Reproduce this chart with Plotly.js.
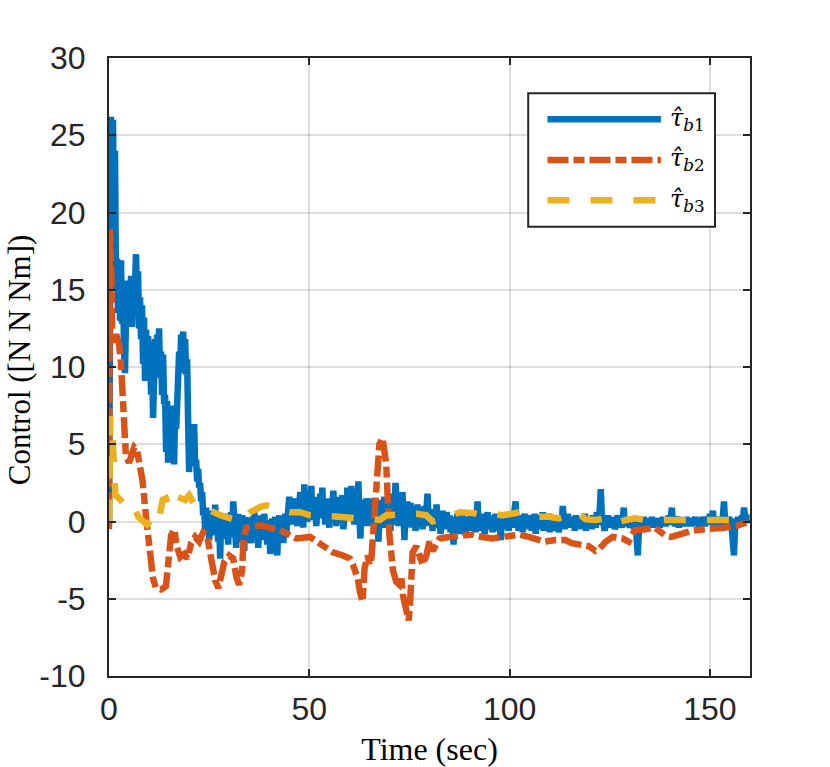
<!DOCTYPE html>
<html>
<head>
<meta charset="utf-8">
<script src="https://cdn.plot.ly/plotly-3.0.1.min.js"></script>
<style>html,body{margin:0;padding:0;background:#fff;}#chart{width:830px;height:767px;}</style>
</head>
<body>
<div id="chart"></div>
<script>
// ---------- DATA ----------
// tau_b1 sampled every 0.25 s from t = 0 to 160
const tb1Step = 0.25;
const tb1 = [
  // 0 - 24 s
  0, 14, 26.2, 22, 26, 18, 24, 15,
  17, 13.5, 16.2, 13, 16.9, 12.8, 15.5, 11,
  9.6, 13.5, 15.6, 12.8, 15.2, 13.1, 15.9, 12.6,
  15, 13.4, 16.5, 17.3, 14, 16.2, 12.5, 14.5,
  11.8, 14, 10.2, 13.2, 9.1, 12.4, 10, 12,
  9.6, 11.7, 8.2, 11, 6.7, 9.5, 11.8, 9.4,
  12.1, 10.2, 12.5, 9.3, 11, 8.2, 10.8, 7.6,
  8.2, 4.5, 7.8, 3.8, 7.3, 5.5, 7.5, 6.1,
  7.4, 3.7, 7.2, 6, 7.5, 8.8, 11, 9.6,
  12.1, 10.2, 12.3, 9.8, 11.8, 9.5, 10.5, 6.5,
  3.2, 5.8, 4.2, 5.5, 4.8, 6.3, 3.6, 4,
  2.6, 3.4, 2.2, 2.5, 1.3, 1.9, 0.4, 0.8,
  -0.5,
  // 24.25 - 25 s
  0.9, -0.8, 0.4, -1.2,
  // 25.25 - 160 s, 20 samples per 5 s
  -0.2, 0.7, -0.9, 0.3, -0.5, 1.1, -0.7, 0.2, -1.3, -0.1, -2.4, 0.4, -0.6, -1.1, 0.3, -0.8, 0.5, -0.3, -1.5, 0.2,
  -0.6, 0.6, -1.0, 1.3, -0.4, 0.1, -1.7, -0.2, 0.5, -0.9, 0.2, -1.3, 0.4, -0.5, -1.9, 0.3, -0.7, 0.1, -1.1, 0.2,
  -0.5, -1.4, 0.3, -0.8, 0.6, -0.3, -1.0, 0.2, -1.7, -0.4, 0.4, -0.9, -0.1, -1.2, 0.5, -0.6, -0.2, -1.5, 0.1, -0.7,
  -2.1, -0.3, 0.2, -1.0, -0.4, 0.3, -1.3, -2.2, -0.2, 0.4, -0.9, -0.5, 0.1, -1.4, -0.3, 0.5, -0.8, 0.2, -0.4, 1.6,
  0.3, 1.2, -0.2, 0.9, 1.5, 0.1, 0.7, -0.3, 1.3, 0.4, 1.9, 0.2, 1.0, -0.4, 2.4, 0.6, 1.4, 0.0, 0.8, 1.7,
  0.5, 2.3, 0.1, 1.2, 0.6, 1.6, -0.3, 0.9, 1.3, 0.2, 1.8, 0.5, 2.2, 0.3, 1.1, -0.2, 0.8, 1.5, 0.4, -0.4,
  1.2, 0.3, 0.9, 2.0, 0.4, 1.3, -0.3, 0.8, 1.6, 0.1, 1.1, 0.5, 1.7, -0.5, 0.7, 1.2, 0.2, 2.2, 0.6, 1.0,
  0.3, 2.3, 0.7, 1.3, -0.2, 0.9, 1.6, 0.4, 2.6, 0.2, -1.1, 0.8, 1.4, 0.3, 0.9, -0.3, 1.5, 0.6, 1.1, 0.2,
  1.5, -0.3, 0.8, 0.3, 1.2, -0.5, 0.6, 0.1, -1.3, 0.9, 1.4, -0.2, 0.7, 0.3, 1.6, -0.4, 0.5, 1.0, 0.2, 0.8,
  -0.6, 1.2, 0.4, 1.8, -0.2, 2.5, 0.6, 1.0, -0.3, 0.8, 1.4, 0.2, 1.9, 0.5, -1.2, 0.9, 0.3, 1.3, -0.1, 0.6,
  1.2, -0.4, 0.7, 0.2, 1.0, -0.6, 0.5, 1.1, -0.2, 0.6, 0.1, 0.9, -0.5, 0.4, 1.0, -0.3, 0.7, 1.8, 0.2, 0.5,
  -0.2, 0.8, -0.6, 0.3, 0.6, -0.4, 1.1, 0.2, -0.3, 0.5, -0.8, 0.3, 0.7, -0.2, 0.4, -0.5, 0.6, 0.1, -0.3, 0.4,
  -0.7, 0.2, -0.4, -1.5, 0.3, -0.6, 0.1, 0.5, -0.3, -0.8, 0.4, -0.2, 0.6, -0.5, 0.1, -0.9, 0.3, -0.4, 0.2, -0.1,
  0.4, -0.6, 0.2, -0.3, 0.5, -0.7, 0.3, 1.3, -0.2, 0.4, -0.6, 0.1, -0.4, 0.5, -0.8, 0.2, -0.2, 0.6, -0.5, 0.1,
  -0.3, 0.4, -0.7, 0.2, -0.1, 0.5, -0.6, 0.1, -0.4, 0.3, -1.2, -0.2, 0.4, -0.5, 0.2, -0.3, 0.6, -0.1, -0.6, 0.3,
  -0.2, 0.5, -0.4, 0.3, 0.7, 1.3, -0.3, 0.2, -0.6, 0.4, -0.1, 0.3, -0.7, 0.1, 0.5, -0.4, 0.2, -0.2, 0.4, -0.5,
  0.1, -0.6, 0.3, -0.2, 0.5, -0.8, 0.2, -0.3, 0.4, -0.5, 0.1, -0.2, 0.6, -0.6, 0.2, -0.4, 0.3, -0.1, 0.5, -0.7,
  0.2, -0.3, 0.4, -0.6, 0.1, 0.3, -0.4, 0.2, -0.7, 0.1, 0.4, -0.2, 1.0, 0.3, -0.5, 0.2, -0.3, 0.5, -0.2, 0.1,
  -0.4, 0.3, -0.1, 0.2, -0.6, 0.4, -0.3, 0.1, -0.5, 0.3, 0.0, -0.4, 0.2, -0.2, 0.5, -0.6, 0.1, -0.3, 0.3, -0.2,
  0.2, -0.5, 0.4, -0.1, 0.3, -0.4, 0.6, -0.2, 0.2, 0.8, 2.1, 0.4, -0.3, 0.1, -0.6, 0.2, -0.2, 0.4, -0.4, 0.1,
  -0.3, 0.3, -0.1, 0.2, -0.5, 0.1, -0.2, 0.4, -0.3, 0.2, 0.0, -0.4, 0.3, 0.9, -0.2, 0.1, -0.3, 0.2, -0.1, -0.4,
  0.2, -0.2, 0.3, -0.5, 0.1, -0.3, -1.2, -2.2, -0.6, 0.2, -0.3, 0.1, -0.2, 0.3, -0.4, 0.1, -0.1, 0.2, -0.3, 0.1,
  -0.2, 0.3, -0.4, 0.1, -0.1, 0.2, -0.3, 0.0, 0.2, -0.4, 0.1, -0.2, 0.3, -0.1, 0.2, -0.3, 0.1, -0.2, 0.4, -0.1,
  0.3, 0.9, -0.2, 0.2, -0.3, 0.1, -0.1, 0.3, -0.4, 0.2, -0.2, 0.1, -0.3, 0.2, 0.0, -0.2, 0.3, -0.3, 0.1, -0.1,
  0.2, -0.3, 0.1, -0.1, 0.3, -0.2, 0.0, 0.2, -0.4, 0.1, -0.2, 0.3, -0.1, 0.2, -0.3, 0.1, 0.0, 0.3, -0.2, 0.5,
  -0.1, 0.2, 0.7, -0.3, 0.1, -0.2, 0.3, -0.4, 0.2, -0.1, 0.1, -0.3, 0.4, 1.3, 0.2, -0.3, 0.1, -0.2, 0.3, -0.1,
  0.2, -0.4, -1.1, -2.2, -0.5, 0.1, -0.2, 0.3, -0.1, 0.2, -0.3, 0.4, 0.1, 0.9, 0.2, -0.1, 0.3, 0.0, 0.4, 0.2
];

const tb2Time = [0,0.2,0.5,0.8,1.2,1.8,2.5,3.0,3.3,3.6,4.2,5.0,5.5,6.3,7.0,7.8,8.4,9.2,9.6,10.0,
  10.4,11.0,11.7,13.0,14.2,14.6,15.0,15.5,16.3,16.9,17.8,18.8,19.6,20.5,21.5,22.5,23.5,24.5,25.5,26.5,
  27.3,28.0,28.8,30.0,31.0,31.8,32.5,33.2,33.6,34.3,35.5,37.8,40.0,42.7,45.2,46.8,50.2,52.7,55.9,58.4,
  60.1,60.9,62.1,62.6,63.3,63.8,64.6,65.0,65.5,65.9,66.3,66.7,67.5,68.3,69.2,69.6,70.0,70.9,71.7,72.5,
  73.0,73.4,74.2,74.8,75.1,75.4,75.8,76.7,77.5,78.3,79.2,80.0,80.8,81.6,82.5,85.0,87.5,90.8,93.2,95.7,
  98.1,100.6,102.4,104.8,107.3,108.9,111.4,113.9,115.5,118.0,119.8,121.4,122.3,124.0,125.7,128.2,129.7,130.5,131.3,133.8,
  136.3,138.8,140.4,142.9,145.4,148.7,151.2,153.7,157.0,160.0];
const tb2 = [-0.5,18.9,17,12,11.6,12.1,11.5,10.2,8.0,5.8,4.3,3.8,4.3,4.8,4.6,3.6,2.6,0.4,-0.6,-1.7,
  -2.8,-3.7,-4.3,-4.4,-4.2,-3.2,-1.8,-0.9,-0.5,-1.6,-2.3,-2.1,-2.4,-1.4,-1.0,-1.3,-0.7,-0.9,-2.4,-3.8,
  -4.3,-3.6,-2.6,-2.2,-2.4,-3.6,-4.1,-3.2,-1.1,-0.4,-0.35,-0.25,-0.4,-0.55,-0.9,-1.1,-1.0,-1.4,-2.0,-2.2,
  -2.4,-2.8,-3.7,-4.5,-5.2,-3.0,-2.2,-2.8,-2.4,-0.9,0.8,2.4,5.0,5.4,3.7,1.3,-0.9,-3.2,-3.9,-4.1,
  -3.7,-4.8,-5.9,-6.4,-5.5,-3.5,-2.0,-1.6,-2.4,-2.8,-2.2,-1.3,-1.9,-1.6,-1.1,-1.0,-0.9,-0.85,-1.0,-1.1,
  -1.0,-0.95,-0.85,-1.0,-1.2,-1.3,-1.2,-1.2,-1.4,-1.5,-1.6,-1.9,-1.8,-1.3,-1.0,-1.1,-1.3,-0.9,-0.55,-0.5,
  -0.4,-0.9,-1.0,-0.8,-0.6,-0.5,-0.5,-0.4,-0.25,0.0];

const tb3Time = [0,0.3,0.8,1.2,1.6,2.5,3.5,4.5,5.5,6.5,7.3,8.5,9.5,10.5,11.5,12.5,13.4,14.2,15.0,16.0,
  17.0,18.0,19.0,20.0,20.8,21.5,22.8,25.3,27.8,30.3,32.8,33.6,35.3,37.8,39.4,42.7,45.2,47.7,50.2,52.7,
  55.2,57.6,60.1,62.6,65.1,67.6,69.2,71.7,74.2,76.7,79.2,80.8,82.5,85.0,87.5,90.8,93.2,95.7,98.1,100.6,
  102.4,104.8,107.3,109.8,112.3,114.8,117.3,118.9,121.4,124.0,126.5,129.0,131.3,133.8,136.3,138.8,141.3,143.7,146.2,148.7,
  151.2,153.7,157.0,159.5,160];
const tb3 = [0,6.8,5.9,3.5,1.7,1.5,1.2,0.9,1.1,0.8,0.3,0.0,-0.2,0.1,-0.25,0.2,1.4,1.5,0.9,0.8,
  0.9,1.5,1.4,1.7,1.2,1.0,0.85,0.7,0.4,0.2,0.0,0.2,0.6,0.95,1.05,0.75,0.6,0.6,0.4,0.4,
  0.35,0.35,0.2,0.2,0.2,0.1,0.4,0.45,0.4,0.5,0.4,0.0,0.1,0.4,0.6,0.55,0.4,0.5,0.4,0.5,
  0.6,0.5,0.3,0.3,0.2,0.4,0.5,0.15,0.1,0.2,-0.1,0.1,0.2,0.1,0.1,0.2,0.15,0.1,0.2,0.1,
  0.1,0.1,0.1,0.3,0.3];

const xTicks = [0, 50, 100, 150];
const yTicks = [-10, -5, 0, 5, 10, 15, 20, 25, 30];
const seriesNames = ['<i>τ̂</i><sub><i>b</i>1</sub>', '<i>τ̂</i><sub><i>b</i>2</sub>', '<i>τ̂</i><sub><i>b</i>3</sub>'];
const xTitle = 'Time (sec)';
const yTitle = 'Control ([N N Nm])';

// ---------- STYLE ----------
const colors = ['#0072BD', '#D95319', '#EDB120'];
const dashes = ['solid', '21px,5px,11px,5px', '22px,21px'];
const LW = 6.5;
const axisCol = '#262626';
const serif = 'Liberation Serif, Times New Roman, serif';

const tb1Time = tb1.map((_, i) => i * tb1Step);

const traces = [
  {x: tb1Time, y: tb1, mode: 'lines', line: {color: colors[0], width: LW, dash: dashes[0]}, showlegend: false, hoverinfo: 'skip'},
  {x: tb2Time, y: tb2, mode: 'lines', line: {color: colors[1], width: LW, dash: dashes[1]}, showlegend: false, hoverinfo: 'skip'},
  {x: tb3Time, y: tb3, mode: 'lines', line: {color: colors[2], width: LW, dash: dashes[2]}, showlegend: false, hoverinfo: 'skip'}
];

// manual legend (paper coords)
const lg = {x0: 0.654, x1: 0.9454, y0: 0.727, y1: 0.9429, lx0: 0.684, lx1: 0.861, tx: 0.872, ys: [0.9008, 0.835, 0.770]};
const shapes = [
  {type: 'rect', xref: 'paper', yref: 'paper', x0: lg.x0, x1: lg.x1, y0: lg.y0, y1: lg.y1,
   line: {color: axisCol, width: 2}, fillcolor: '#ffffff', layer: 'above'}
];
const annotations = [];
for (let i = 0; i < 3; i++) {
  shapes.push({type: 'line', xref: 'paper', yref: 'paper', x0: lg.lx0, x1: lg.lx1, y0: lg.ys[i], y1: lg.ys[i],
    line: {color: colors[i], width: LW, dash: dashes[i]}, layer: 'above'});
  annotations.push({xref: 'paper', yref: 'paper', x: lg.tx, y: lg.ys[i], xanchor: 'left', yanchor: 'middle',
    text: seriesNames[i], showarrow: false, font: {family: 'DejaVu Serif, serif', size: 24, color: '#000'}});
}
// y-axis title placed as a rotated annotation
annotations.push({xref: 'paper', yref: 'paper', x: -0.1404, y: 0.511, xanchor: 'center', yanchor: 'middle',
  textangle: -90, text: yTitle, showarrow: false, font: {family: serif, size: 31, color: '#000'}});

const axisCommon = {
  showline: true, linecolor: axisCol, linewidth: 2, mirror: 'ticks',
  ticks: 'inside', ticklen: 7, tickwidth: 2, tickcolor: axisCol,
  showgrid: true, gridcolor: 'rgba(0,0,0,0.13)', gridwidth: 2,
  zeroline: false, tickfont: {family: 'Liberation Sans, Arial, sans-serif', size: 32, color: axisCol},
  fixedrange: true
};

const layout = {
  width: 830, height: 767,
  margin: {l: 109, r: 80, t: 58, b: 91},
  paper_bgcolor: '#ffffff', plot_bgcolor: '#ffffff',
  xaxis: Object.assign({}, axisCommon, {
    range: [0, 160], tickvals: xTicks, ticktext: xTicks.map(String), ticklabelstandoff: 4,
    title: {text: xTitle, standoff: 16, font: {family: serif, size: 32, color: '#000'}}
  }),
  yaxis: Object.assign({}, axisCommon, {
    range: [-10, 30], tickvals: yTicks, ticktext: yTicks.map(String), ticklabelstandoff: 15
  }),
  shapes: shapes,
  annotations: annotations,
  showlegend: false
};

Plotly.newPlot('chart', traces, layout, {displayModeBar: false, staticPlot: true});
</script>
</body>
</html>
